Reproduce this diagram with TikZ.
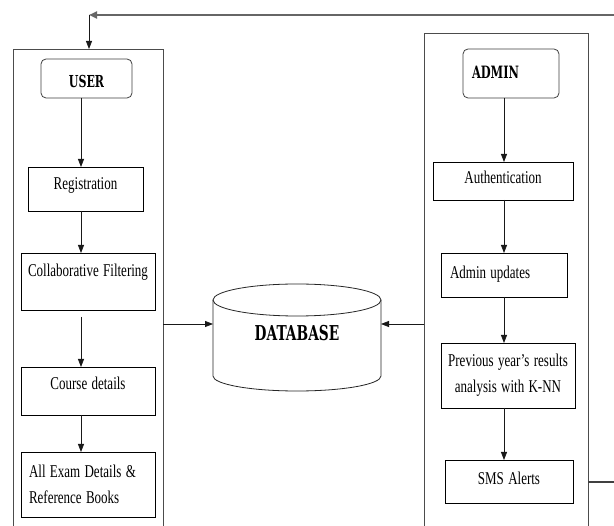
\documentclass[tikz,border=0pt]{standalone}
\usepackage{graphicx}
\usepackage{fontspec}
\setmainfont{Liberation Serif}
\newfontfamily\titlefont[FakeStretch=0.67]{DejaVu Serif}
\newcommand\bodysize{\fontsize{13}{26}\selectfont}
\newcommand\vs[1]{\scalebox{1}[1.385]{#1}}
\usetikzlibrary{arrows.meta}
\begin{document}
\begin{tikzpicture}[x=1pt,y=-1pt,
  every node/.style={inner sep=0pt, outer sep=0pt},
  lane/.style={draw=black!70, line width=0.9pt, anchor=north west},
  stepbox/.style={draw=black, line width=0.8pt, anchor=north west,
    font=\bodysize, align=center},
  titlebox/.style={draw=black!75, line width=0.8pt, rounded corners=5pt, anchor=north west},
  arr/.style={draw=black!90, line width=0.8pt, -{Triangle[length=8pt,width=6pt]}},
  dbline/.style={draw=black!85, line width=0.8pt},
  fbthin/.style={draw=black!75, line width=1.2pt},
  fbthick/.style={draw=black!60, line width=2pt, -{Triangle[length=8pt,width=7pt]}}
]
\useasboundingbox (0,0) rectangle (614,526);
\fill[white] (0,0) rectangle (614,526);

% lanes
\node[lane, minimum width=150pt, minimum height=496pt] (userlane) at (13,49) {};
\node[lane, minimum width=164pt, minimum height=512pt] (adminlane) at (424,33) {};

% titles
\node[titlebox, text width=91pt, align=center, text height=29pt, text depth=10pt,
  font=\titlefont\bfseries\fontsize{16.5}{20}\selectfont] (user) at (41,59) {USER};
\node[titlebox, text width=78pt, inner xsep=9pt, align=left, text height=30pt, text depth=19pt,
  font=\titlefont\bfseries\fontsize{17}{20}\selectfont] (admin) at (463,49) {ADMIN};

% user steps
\node[stepbox, text width=115pt, text height=23pt, text depth=21pt] (reg) at (28,167) {\vs{Registration}};
\node[stepbox, text width=134pt, text height=24pt, text depth=33pt] (collab) at (21,253) {\vs{Collaborative Filtering}};
\node[stepbox, text width=134pt, text height=23pt, text depth=25pt] (course) at (21,367) {\vs{Course details}};
\node[stepbox, text width=118pt, inner xsep=8pt, align=left, minimum height=65pt] (exam) at (21,452) {\vs{All Exam Details \&}\\\vs{Reference Books}};

% admin steps
\node[stepbox, text width=140pt, text height=22pt, text depth=16pt] (auth) at (433,162) {\vs{Authentication}};
\node[stepbox, text width=108pt, inner xsep=9pt, align=left, text height=26pt, text depth=18pt] (upd) at (441,253) {\vs{Admin updates}};
\node[stepbox, text width=134pt, minimum height=65pt] (prev) at (441,343) {\vs{Previous year’s results}\\\vs{analysis with K-NN}};
\node[stepbox, text width=128pt, text height=25pt, text depth=18pt] (sms) at (445,460) {\vs{SMS Alerts}};

% database
\node[anchor=north west, text width=168pt, align=center, text height=57pt, text depth=50pt,
  font=\titlefont\bfseries\fontsize{20.5}{24}\selectfont] (db) at (213,284) {DATABASE};
\draw[dbline] ([yshift=-16pt]db.north) ellipse [x radius=84pt, y radius=16pt];
\draw[dbline] ([yshift=-16pt]db.north west) -- ([yshift=15pt]db.south west)
  arc[start angle=180, end angle=360, x radius=84pt, y radius=15pt]
  -- ([yshift=-16pt]db.north east);

% helper coordinates
\coordinate (lcol) at (81,0);
\coordinate (rcol) at (504,0);
\coordinate (dby) at (0,324);
\coordinate (smsy) at (0,482);
\coordinate (fb) at (89,15);
\coordinate (fr) at (630,15);

% user flow
\draw[arr] (user.south -| lcol) -- (reg.north -| lcol);
\draw[arr] (reg.south -| lcol) -- (collab.north -| lcol);
\draw[arr] ([yshift=-7pt]collab.south -| lcol) -- (course.north -| lcol);
\draw[arr] (course.south -| lcol) -- (exam.north -| lcol);

% admin flow
\draw[arr] (admin.south -| rcol) -- (auth.north -| rcol);
\draw[arr] (auth.south -| rcol) -- (upd.north -| rcol);
\draw[arr] (upd.south -| rcol) -- (prev.north -| rcol);
\draw[arr] (prev.south -| rcol) -- (sms.north -| rcol);

% to database
\draw[arr] (userlane.east |- dby) -- (db.west |- dby);
\draw[arr] (adminlane.west |- dby) -- (db.east |- dby);

% feedback loop
\draw[fbthin] (adminlane.east |- smsy) -- (smsy -| fr) -- (fr);
\draw[fbthick] (fr) -- (fb);
\draw[arr] (fb) -- (userlane.north -| fb);
\end{tikzpicture}
\end{document}
